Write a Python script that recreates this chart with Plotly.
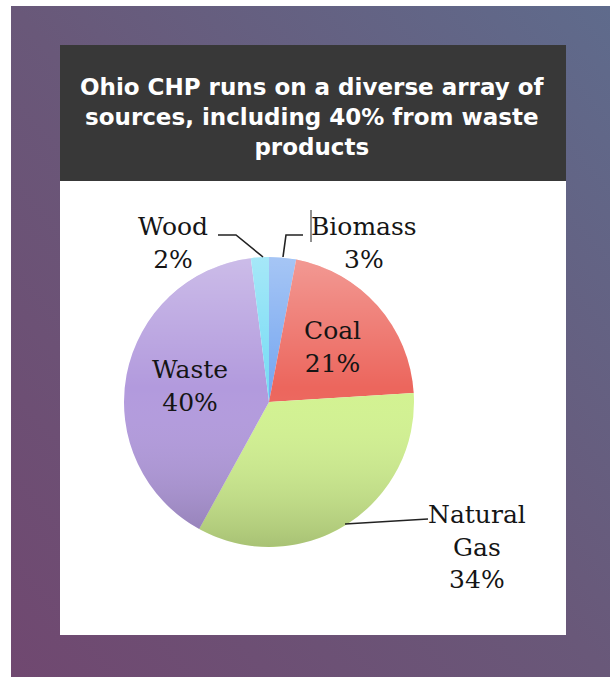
import base64
import plotly.graph_objects as go

# ---------------- data ----------------
labels = ["Biomass", "Coal", "Natural Gas", "Waste", "Wood"]
values = [3, 21, 34, 40, 2]
label_lines = ["Biomass", "Coal", "Natural<br>Gas", "Waste", "Wood"]
title_text = "Ohio CHP runs on a diverse array of<br>sources, including 40% from waste<br>products"

# ---------------- styling ----------------
W, H = 613, 677
slice_colors = ["#78a8f0", "#ec665d", "#d2f291", "#b29add", "#78dcf4"]
# label centre positions in pixels (layout only)
label_pos = {
    "Biomass": (364, 243),
    "Coal": (332, 347),
    "Natural Gas": (477, 547),
    "Waste": (190, 386),
    "Wood": (173, 243),
}


def px(x):
    return x / W


def py(y):
    return 1 - y / H


def svg_uri(svg):
    return "data:image/svg+xml;base64," + base64.b64encode(svg.encode()).decode()


bg_svg = (
    "<svg xmlns='http://www.w3.org/2000/svg' width='599' height='671'>"
    "<defs><linearGradient id='g' x1='1' y1='0' x2='0' y2='1'>"
    "<stop offset='0' stop-color='#5f6b8c'/><stop offset='0.5' stop-color='#695879'/>"
    "<stop offset='1' stop-color='#704870'/></linearGradient></defs>"
    "<rect width='599' height='671' fill='url(#g)'/></svg>"
)
shade_svg = (
    "<svg xmlns='http://www.w3.org/2000/svg' width='290' height='290'>"
    "<defs><linearGradient id='s' x1='0' y1='0' x2='0' y2='1'>"
    "<stop offset='0' stop-color='#ffffff' stop-opacity='0.34'/>"
    "<stop offset='0.45' stop-color='#ffffff' stop-opacity='0.0'/>"
    "<stop offset='1' stop-color='#000000' stop-opacity='0.2'/>"
    "</linearGradient></defs>"
    "<circle cx='145' cy='145' r='145' fill='url(#s)'/></svg>"
)

cx, cy, r = 269, 402, 145

fig = go.Figure()
fig.add_trace(
    go.Pie(
        labels=labels,
        values=values,
        sort=False,
        direction="clockwise",
        rotation=0,
        marker=dict(colors=slice_colors, line=dict(width=0)),
        textinfo="none",
        hoverinfo="label+percent",
        showlegend=False,
        domain=dict(x=[px(cx - r), px(cx + r)], y=[py(cy + r), py(cy - r)]),
    )
)

images = [
    dict(source=svg_uri(bg_svg), xref="paper", yref="paper", x=px(11), y=py(6),
         sizex=599 / W, sizey=671 / H, sizing="stretch", xanchor="left", yanchor="top",
         layer="below"),
    dict(source=svg_uri(shade_svg), xref="paper", yref="paper", x=px(cx - r), y=py(cy - r),
         sizex=2 * r / W, sizey=2 * r / H, sizing="stretch", xanchor="left", yanchor="top",
         layer="above"),
]

shapes = [
    # white panel
    dict(type="rect", xref="paper", yref="paper", x0=px(60), x1=px(566), y0=py(635), y1=py(45),
         fillcolor="white", line=dict(width=0), layer="below"),
    # dark header
    dict(type="rect", xref="paper", yref="paper", x0=px(60), x1=px(566), y0=py(181), y1=py(45),
         fillcolor="#383838", line=dict(width=0), layer="below"),
    # leader lines
    dict(type="path", xref="paper", yref="paper",
         path=f"M {px(218)},{py(235)} L {px(236)},{py(235)} L {px(263)},{py(257)}",
         line=dict(color="#222222", width=1.6)),
    dict(type="path", xref="paper", yref="paper",
         path=f"M {px(283)},{py(257)} L {px(286)},{py(235)} L {px(303)},{py(235)}",
         line=dict(color="#222222", width=1.6)),
    dict(type="path", xref="paper", yref="paper",
         path=f"M {px(345)},{py(524)} L {px(428)},{py(519)}",
         line=dict(color="#222222", width=1.6)),
    dict(type="line", xref="paper", yref="paper", x0=px(311), x1=px(311), y0=py(242), y1=py(210),
         line=dict(color="#222222", width=1)),
]

annotations = [
    dict(text=title_text, x=px(313), y=py(117), xref="paper", yref="paper",
         showarrow=False, xanchor="center", yanchor="middle", align="center",
         font=dict(family="DejaVu Sans", size=23, color="white", weight=700)),
]
for lab, val, txt in zip(labels, values, label_lines):
    x, y = label_pos[lab]
    annotations.append(
        dict(text=f"{txt}<br>{val}%", x=px(x), y=py(y), xref="paper", yref="paper",
             showarrow=False, xanchor="center", yanchor="middle", align="center",
             font=dict(family="DejaVu Serif", size=25, color="#151515"))
    )

fig.update_layout(
    width=W, height=H,
    margin=dict(l=0, r=0, t=0, b=0),
    paper_bgcolor="white",
    plot_bgcolor="white",
    images=images,
    shapes=shapes,
    annotations=annotations,
)

fig.write_html("out.html", config={"displayModeBar": False})
